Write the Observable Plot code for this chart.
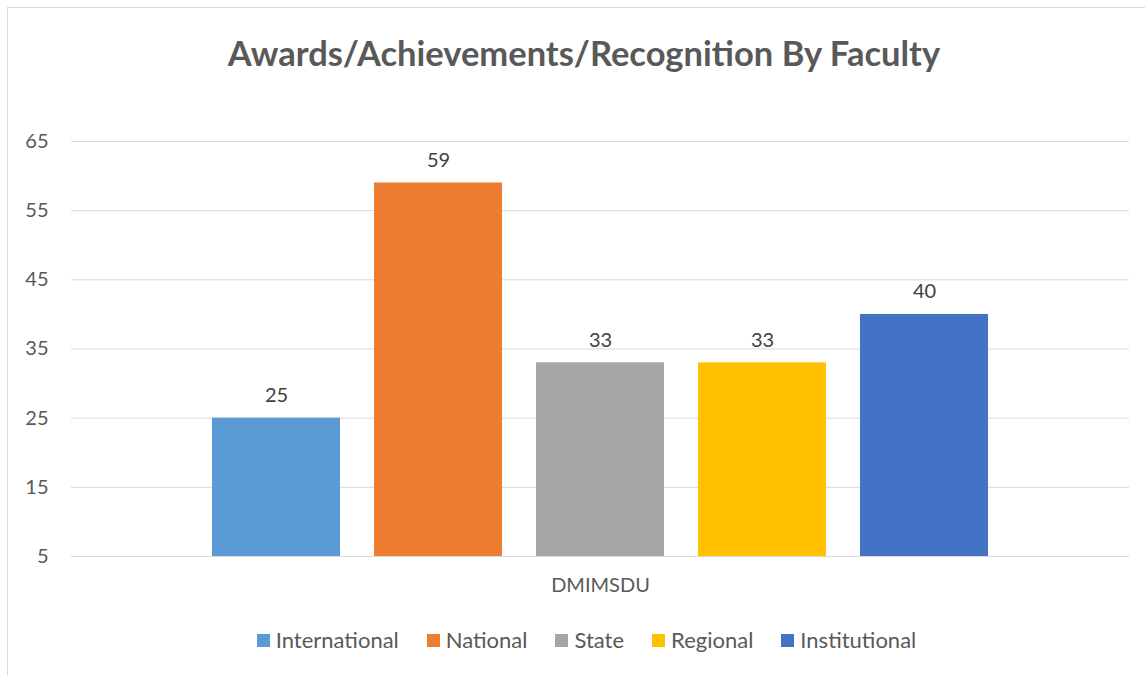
<!DOCTYPE html>
<html><head><meta charset="utf-8">
<script src="https://cdn.jsdelivr.net/npm/d3@7"></script>
<script src="https://cdn.jsdelivr.net/npm/@observablehq/plot@0.6"></script>
<style>
body{margin:0;background:#fff;width:1145px;height:675px;overflow:hidden;position:relative;font-family:Lato,"Open Sans",sans-serif;}
#frame{position:absolute;left:7px;top:7px;width:1170px;height:700px;border:1px solid #d9d9d9;box-sizing:border-box;}
#title{position:absolute;left:0;top:32px;width:1168px;text-align:center;font-weight:bold;font-size:34.5px;color:#595959;line-height:42px;}
#chart{position:absolute;left:0;top:100px;}
#legend{position:absolute;left:0;top:627px;width:1173px;display:flex;justify-content:center;align-items:center;font-size:22px;color:#595959;line-height:26px;}
#legend .item{display:flex;align-items:center;margin:0 14px;}
#legend .sw{width:13px;height:13px;margin-right:6px;}
</style></head>
<body>
<div id="frame"></div>
<div id="title">Awards/Achievements/Recognition By Faculty</div>
<div id="chart"></div>
<div id="legend"></div>
<script>
const categories = ["DMIMSDU"];
const series = ["International", "National", "State", "Regional", "Institutional"];
const values = [25, 59, 33, 33, 40];
const colors = ["#5B9BD5", "#ED7D31", "#A5A5A5", "#FFC000", "#4472C4"];
const yTicks = [5, 15, 25, 35, 45, 55, 65];

const rows = series.map((s, i) => ({category: categories[0], series: s, value: values[i]}));

const chart = Plot.plot({
  width: 1145,
  height: 520,
  marginLeft: 71,
  marginRight: 16,
  marginTop: 41,
  marginBottom: 64,
  style: {fontFamily: "Lato, 'Open Sans', sans-serif", fontSize: "20px", color: "#595959", background: "transparent"},
  facet: {data: rows, x: "category"},
  fx: {padding: 0, label: null, axis: "bottom", tickSize: 0, tickPadding: 21},
  x: {domain: series, paddingInner: 0.21, paddingOuter: 0.865, axis: null},
  y: {domain: [yTicks[0], yTicks[yTicks.length - 1]], ticks: yTicks, tickSize: 0, tickPadding: 23, label: null},
  color: {domain: series, range: colors},
  marks: [
    Plot.gridY(yTicks, {stroke: "#d9d9d9", strokeOpacity: 1, strokeWidth: 1}),
    Plot.barY(rows, {x: "series", y1: yTicks[0], y2: "value", fill: "series"}),
    Plot.text(rows, {x: "series", y: "value", text: d => String(d.value), dy: -16, lineAnchor: "bottom", fill: "#404040", fontSize: 20})
  ]
});
document.getElementById("chart").appendChild(chart);

const leg = document.getElementById("legend");
series.forEach((s, i) => {
  const it = document.createElement("div");
  it.className = "item";
  const sw = document.createElement("span");
  sw.className = "sw";
  sw.style.background = colors[i];
  const t = document.createElement("span");
  t.textContent = s;
  it.appendChild(sw); it.appendChild(t);
  leg.appendChild(it);
});
</script>
</body></html>
